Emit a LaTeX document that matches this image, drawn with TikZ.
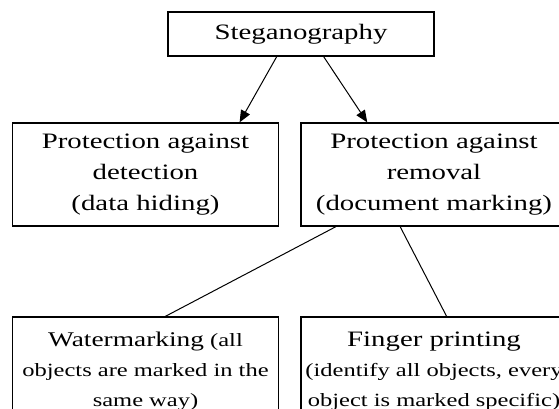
\documentclass[tikz,border=0pt]{standalone}
\usepackage{fontspec}
\setmainfont{Liberation Serif}[FakeStretch=1.31]
\usetikzlibrary{arrows.meta}
\begin{document}
\begin{tikzpicture}[x=1pt,y=-1pt,
  box/.style={draw,line width=1.3pt,inner sep=0pt,align=center,minimum width=266pt},
  bigtext/.style={font=\fontsize{22}{31}\selectfont},
  smalltext/.style={font=\fontsize{18.7}{30}\selectfont},
  arr/.style={-{Triangle[length=12pt,width=10pt]},line width=1pt},
  link/.style={line width=1pt}]
\useasboundingbox (0,0) rectangle (559,409);
\clip (0,0) rectangle (559,409);
\node[box,bigtext,minimum height=44pt] (steg) at (301,34) {Steganography};
\node[box,bigtext,minimum height=103pt] (det) at (145.5,174.5) {Protection against\\detection\\(data hiding)};
\node[box,bigtext,minimum height=103pt] (rem) at (434,174.5) {Protection against\\removal\\(document marking)};
\node[box,smalltext,minimum height=108pt] (wat) at (145.5,371) {{\fontsize{20.9}{30}\selectfont Watermarking} (all\\objects are marked in the\\same way)};
\node[box,smalltext,minimum height=108pt] (fin) at (434,371) {{\fontsize{22}{30}\selectfont Finger printing}\\(identify all objects, every\\object is marked specific)};
\draw[arr] (steg.223.7) -- (det.29.4);
\draw[arr] (steg.315) -- (rem.142);
\draw[link] (rem.208.7) -- (wat.70.1);
\draw[link] (rem.237.4) -- (fin.77.5);
\end{tikzpicture}
\end{document}
